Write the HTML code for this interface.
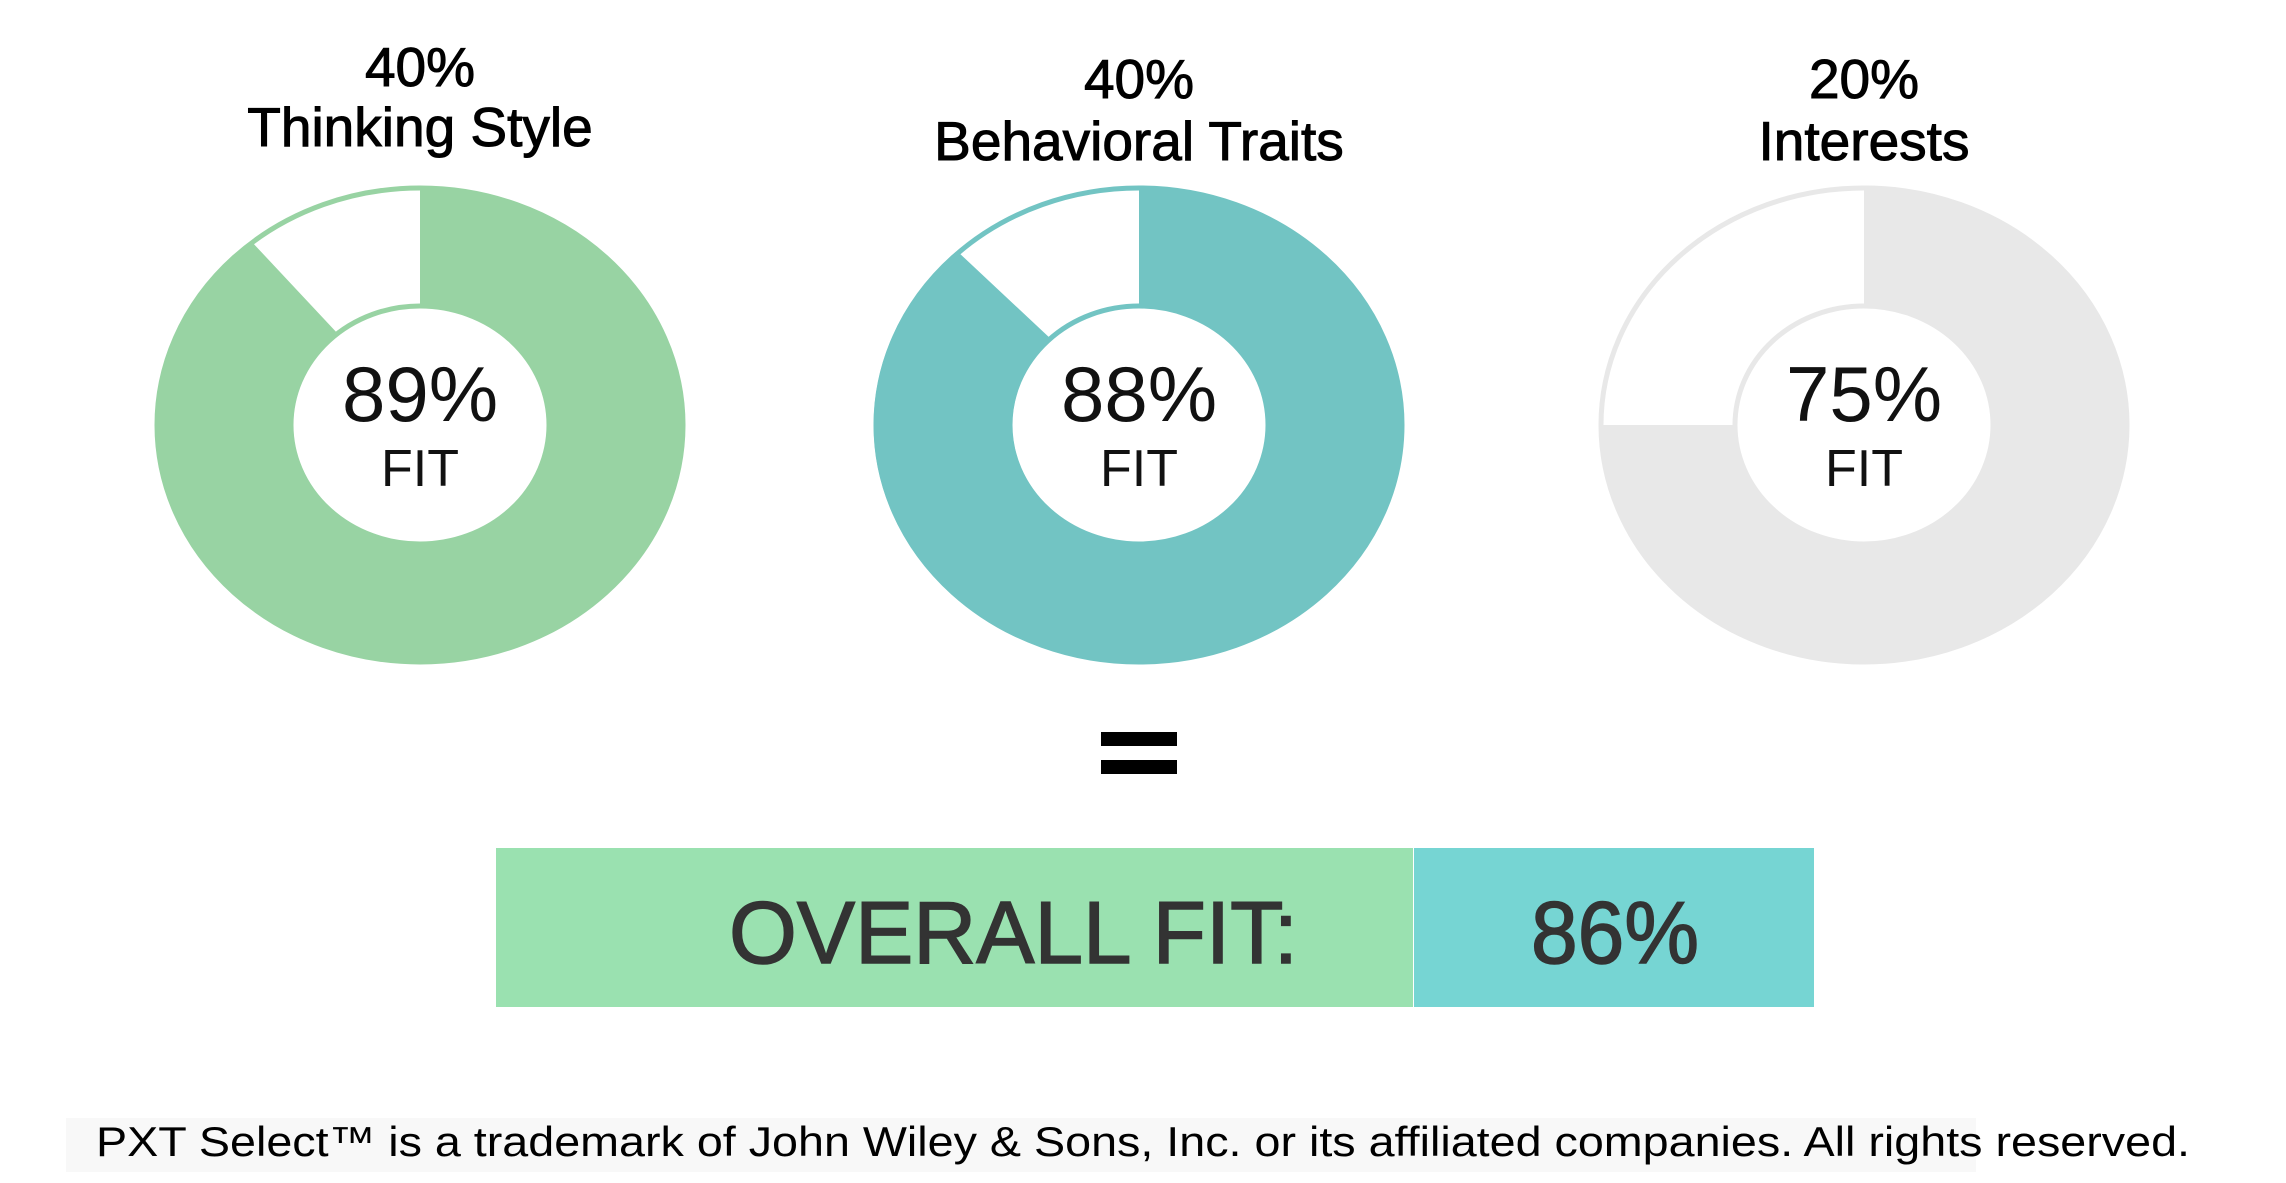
<!DOCTYPE html>
<html><head><meta charset="utf-8"><style>
html,body{margin:0;padding:0;background:#fff;}
svg{display:block;}
text{font-family:"Liberation Sans",sans-serif;}
</style></head><body>
<svg width="2286" height="1183" viewBox="0 0 2286 1183" xmlns="http://www.w3.org/2000/svg">
<rect width="2286" height="1183" fill="#fff"/>
<!-- donut 1 -->
<ellipse cx="420" cy="425" rx="263" ry="237" fill="none" stroke="#98d3a3" stroke-width="5"/>
<ellipse cx="420" cy="425" rx="129" ry="119" fill="none" stroke="#98d3a3" stroke-width="5"/>
<path d="M420 186 A265 239 0 1 1 251 241 L339 335 A127 117 0 1 0 420 308 Z" fill="#98d3a3"/>
<!-- donut 2 -->
<ellipse cx="1139" cy="425" rx="263" ry="237" fill="none" stroke="#72c4c3" stroke-width="5"/>
<ellipse cx="1139" cy="425" rx="129" ry="119" fill="none" stroke="#72c4c3" stroke-width="5"/>
<path d="M1139 186 A265 239 0 1 1 957 251 L1052 340 A127 117 0 1 0 1139 308 Z" fill="#72c4c3"/>
<!-- donut 3 -->
<ellipse cx="1864" cy="425" rx="263" ry="237" fill="none" stroke="#e8e8e8" stroke-width="5"/>
<ellipse cx="1864" cy="425" rx="129" ry="119" fill="none" stroke="#e8e8e8" stroke-width="5"/>
<path d="M1864 186 A265 239 0 1 1 1599 425 L1737 425 A127 117 0 1 0 1864 308 Z" fill="#e8e8e8"/>

<g fill="#000" stroke="#000" stroke-width="1" font-size="55" text-anchor="middle">
<text x="420" y="86">40%</text>
<text x="420" y="146">Thinking Style</text>
<text x="1139" y="98">40%</text>
<text x="1139" y="160">Behavioral Traits</text>
<text x="1864" y="98">20%</text>
<text x="1864" y="160">Interests</text>
</g>
<g fill="#111" text-anchor="middle">
<text x="420" y="421" font-size="78">89%</text>
<text x="420" y="486" font-size="52">FIT</text>
<text x="1139" y="421" font-size="78">88%</text>
<text x="1139" y="486" font-size="52">FIT</text>
<text x="1864" y="421" font-size="78">75%</text>
<text x="1864" y="486" font-size="52">FIT</text>
</g>
<rect x="1101" y="732" width="76" height="14" fill="#000"/>
<rect x="1101" y="760" width="76" height="14" fill="#000"/>
<rect x="496" y="848" width="917" height="159" fill="#9ae1b0"/>
<rect x="1414" y="848" width="400" height="159" fill="#76d5d3"/>
<g fill="#333" stroke="#333" stroke-width="1.5" font-size="88">
<text x="729" y="963" textLength="569" lengthAdjust="spacingAndGlyphs">OVERALL FIT:</text>
<text x="1531" y="963" textLength="168" lengthAdjust="spacingAndGlyphs">86%</text>
</g>
<rect x="66" y="1118" width="1910" height="54" fill="#f8f8f8"/>
<text x="96" y="1156" font-size="42" fill="#000" textLength="2094" lengthAdjust="spacingAndGlyphs">PXT Select™ is a trademark of John Wiley &amp; Sons, Inc. or its affiliated companies. All rights reserved.</text>
</svg>
</body></html>
